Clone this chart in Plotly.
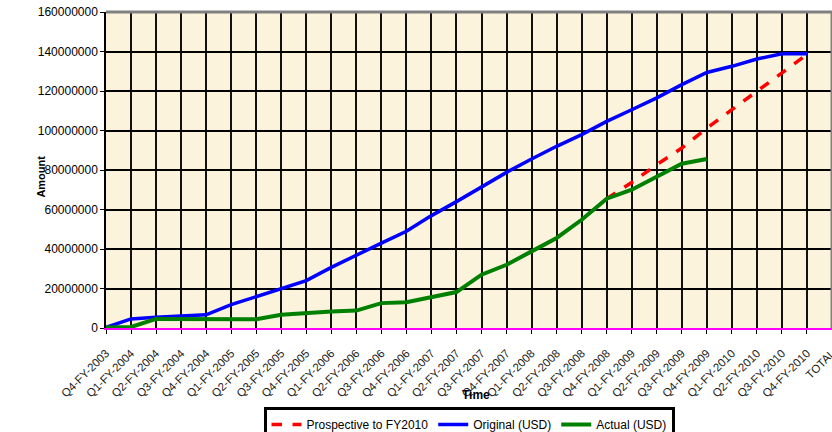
import plotly.graph_objects as go

categories = ["Q4-FY-2003",
              "Q1-FY-2004", "Q2-FY-2004", "Q3-FY-2004", "Q4-FY-2004",
              "Q1-FY-2005", "Q2-FY-2005", "Q3-FY-2005", "Q4-FY-2005",
              "Q1-FY-2006", "Q2-FY-2006", "Q3-FY-2006", "Q4-FY-2006",
              "Q1-FY-2007", "Q2-FY-2007", "Q3-FY-2007", "Q4-FY-2007",
              "Q1-FY-2008", "Q2-FY-2008", "Q3-FY-2008", "Q4-FY-2008",
              "Q1-FY-2009", "Q2-FY-2009", "Q3-FY-2009", "Q4-FY-2009",
              "Q1-FY-2010", "Q2-FY-2010", "Q3-FY-2010", "Q4-FY-2010",
              "TOTAL"]

original_usd = [300000, 4600000, 5500000, 5900000, 6700000,
                11800000, 16000000, 19800000, 24000000,
                30700000, 37000000, 43000000, 49000000,
                56900000, 64000000, 71400000, 78800000,
                85600000, 92000000, 97900000, 104600000,
                110500000, 116500000, 123200000, 129400000,
                132500000, 136200000, 138900000, 138900000,
                None]

actual_usd = [300000, 500000, 4600000, 4600000, 4600000,
              4400000, 4400000, 6700000, 7600000,
              8400000, 8800000, 12600000, 13000000,
              15500000, 18200000, 27000000, 32000000,
              38800000, 45600000, 54800000, 65500000,
              70000000, 76800000, 83200000, 85600000,
              None, None, None, None,
              None]

prospective = [None] * 20 + [65500000, 73700000, 82700000, 91100000, 101200000,
                             110500000, 119800000, 129000000, 138500000, None]

FONT = "Liberation Sans, Arial, sans-serif"

fig = go.Figure()
fig.add_trace(go.Scatter(x=categories, y=prospective, mode="lines",
                         name="Prospective to FY2010",
                         line=dict(color="#FF0000", width=3.5, dash="dash")))
fig.add_trace(go.Scatter(x=categories, y=original_usd, mode="lines",
                         name="Original (USD)",
                         line=dict(color="#0000FF", width=3.5)))
fig.add_trace(go.Scatter(x=categories, y=actual_usd, mode="lines",
                         name="Actual (USD)",
                         line=dict(color="#008000", width=4)))

fig.update_layout(
    width=832, height=432,
    margin=dict(l=106, r=0, t=12, b=104, autoexpand=False),
    paper_bgcolor="white",
    plot_bgcolor="#FCF3DC",
    font=dict(family=FONT, color="black"),
    showlegend=True,
    legend=dict(orientation="h", x=0.5, xanchor="center", y=-0.25, yanchor="top",
                bordercolor="black", borderwidth=3, bgcolor="white",
                font=dict(size=12, family=FONT), traceorder="normal",
                itemwidth=30, tracegroupgap=0),
    xaxis=dict(type="category", range=[0, 29], tickangle=-45, automargin=False,
               tickfont=dict(size=11.5, family=FONT, color="#222222"),
               ticklabelstandoff=8,
               showgrid=True, gridcolor="#111111", gridwidth=1.8,
               showline=True, linecolor="#FF00FF", linewidth=2,
               ticks="outside", ticklen=4, tickcolor="black",
               dtick=1),
    yaxis=dict(range=[0, 160000000], dtick=20000000, tickformat="d", automargin=False,
               tickfont=dict(size=12, family=FONT),
               showgrid=True, gridcolor="black", gridwidth=1.5,
               zeroline=False, showline=True, linecolor="black", linewidth=1.5,
               ticks="outside", ticklen=4, tickcolor="black"),
    shapes=[dict(type="line", xref="paper", yref="paper", x0=0, x1=1, y0=1, y1=1,
                 line=dict(color="#808080", width=3)),
            dict(type="line", xref="paper", yref="paper", x0=1, x1=1, y0=0, y1=1,
                 line=dict(color="#808080", width=3))],
    annotations=[
        dict(text="<b>Time</b>", xref="paper", yref="paper", x=0.51, y=-0.212,
             xanchor="center", yanchor="middle", showarrow=False,
             font=dict(size=12, family=FONT)),
        dict(text="<b>Amount</b>", xref="paper", yref="paper", x=-0.09, y=0.478,
             xanchor="center", yanchor="middle", showarrow=False, textangle=-90,
             font=dict(size=11, family=FONT)),
    ],
)

fig.write_html("out.html")
